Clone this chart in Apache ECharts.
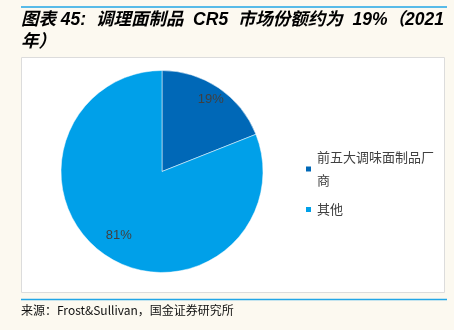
<!DOCTYPE html>
<html>
<head>
<meta charset="utf-8">
<script src="https://cdn.jsdelivr.net/npm/echarts@6/dist/echarts.min.js"></script>
<style>
html,body{margin:0;padding:0;background:#fcf9f0;}
#main{width:454px;height:330px;}
</style>
</head>
<body>
<div id="main"></div>
<script>
var names = ['前五大调味面制品厂商', '其他'];
var shares = [19, 81]; // 市场份额(%)
var colors = ['#0068b7', '#00a0e9'];
var labelScale = [1.62, 1.44]; // 标签离圆心的距离（相对默认inside位置）

var cx = 162, cy = 171.5;
var myChart = echarts.init(document.getElementById('main'));
var pieData = [];
for (var i = 0; i < names.length; i++) {
	pieData.push({ name: names[i], value: shares[i], itemStyle: { color: colors[i] } });
}

myChart.setOption({
	backgroundColor: '#fcf9f0',
	animation: false,
	title: {
		text: '图表 45:  调理面制品  CR5  市场份额约为  19%（2021\n年）',
		left: 21,
		top: 9,
		padding: 0,
		textStyle: {
			fontFamily: '"Liberation Sans", "Noto Sans CJK SC"',
			fontSize: 17.5,
			fontWeight: 'bold',
			fontStyle: 'italic',
			color: '#000',
			lineHeight: 22
		}
	},
	graphic: [
		{ type: 'line', shape: { x1: 21, y1: 7, x2: 447, y2: 7 }, style: { stroke: '#22a6e6', lineWidth: 1.5 } },
		{ type: 'rect', shape: { x: 21.5, y: 57.5, width: 423, height: 235 }, style: { fill: '#fff', stroke: '#dcdcdc', lineWidth: 1 }, z: -1 },
		{ type: 'line', shape: { x1: 21, y1: 299.5, x2: 447, y2: 299.5 }, style: { stroke: '#22a6e6', lineWidth: 1.5 } },
		{ type: 'text', left: 21, top: 304, style: { text: '来源：Frost&Sullivan，国金证券研究所', font: '12px "Noto Sans CJK SC"', fill: '#111' } }
	],
	legend: {
		orient: 'vertical',
		left: 299,
		top: 141,
		icon: 'rect',
		itemWidth: 7,
		itemHeight: 7,
		itemGap: 6,
		itemTextGap: 3,
		data: names,
		textStyle: {
			fontFamily: 'Noto Sans CJK SC',
			fontSize: 13,
			color: '#404040',
			width: 122,
			overflow: 'break',
			lineHeight: 23
		}
	},
	series: [
		{
			type: 'pie',
			center: [cx, cy],
			radius: [0, 101],
			startAngle: 90,
			clockwise: true,
			data: pieData,
			itemStyle: { borderColor: '#ffffff', borderWidth: 0.5 },
			label: {
				show: true,
				position: 'inside',
				formatter: '{c}%',
				fontFamily: 'Liberation Sans',
				fontSize: 13,
				color: '#404040'
			},
			labelLine: { show: false },
			labelLayout: function (p) {
				var r = p.labelRect;
				var lx = r.x + r.width / 2, ly = r.y + r.height / 2;
				var k = labelScale[p.dataIndex] - 1;
				return { dx: (lx - cx) * k, dy: (ly - cy) * k };
			}
		}
	]
});
</script>
</body>
</html>
